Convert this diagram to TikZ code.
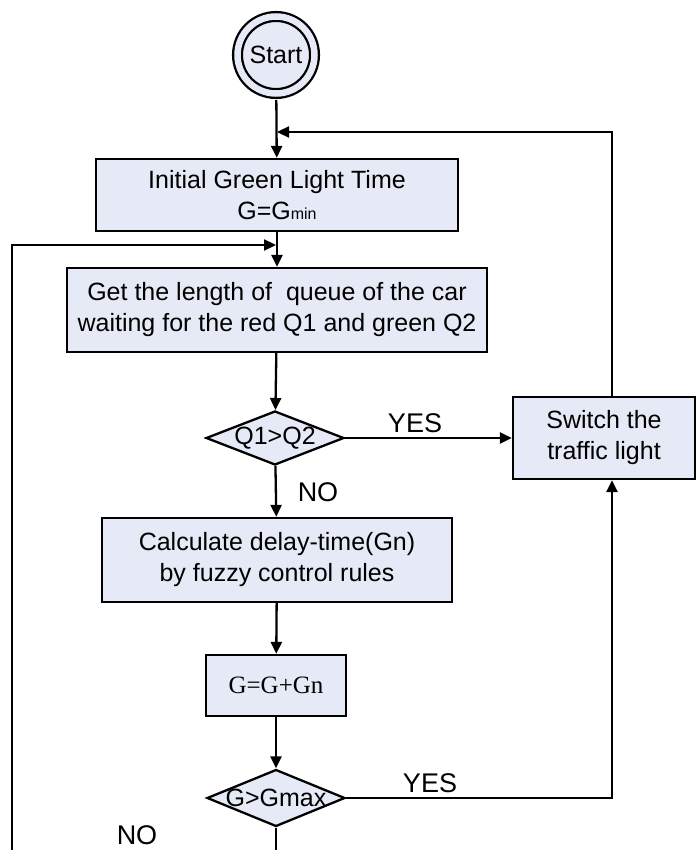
\documentclass[tikz,border=0pt]{standalone}
\usepackage{fontspec}
\setmainfont{Liberation Sans}
\newfontfamily\timesfont{Liberation Serif}
\usetikzlibrary{arrows.meta,shapes.geometric}
\definecolor{boxfill}{RGB}{230,234,246}
\begin{document}
\begin{tikzpicture}[x=1pt,y=-1pt,
  every node/.style={font=\fontsize{25}{31}\selectfont, inner sep=0pt},
  procbox/.style={draw, line width=2.3pt, fill=boxfill, rectangle, align=center},
  decision/.style={draw, line width=2.3pt, fill=boxfill, diamond},
  flow/.style={line width=2.3pt, -{Triangle[length=12pt,width=11pt]}},
  plain/.style={line width=2.3pt},
  lbl/.style={font=\fontsize{27}{27}\selectfont}]
\useasboundingbox (0,0) rectangle (697,850);

% start terminal (double ring)
\node[circle, minimum size=77pt, fill=boxfill, draw, line width=2.3pt,
      double=boxfill, double distance=6.5pt] (start) at (276,55) {Start};

% process boxes
\node[procbox, minimum width=362pt, minimum height=72pt] (b1) at (277,195)
  {Initial Green Light Time\\G=G{\fontsize{16}{16}\selectfont min}};
\node[procbox, minimum width=420pt, minimum height=84pt] (b2) at (277,310)
  {Get the length of \ queue of the car\\waiting for the red Q1 and green Q2};
\node[procbox, minimum width=350pt, minimum height=84pt] (b3) at (277,560)
  {Calculate delay-time(Gn)\\by fuzzy control rules};
\node[procbox, minimum width=140pt, minimum height=61pt] (b4) at (276,685.5)
  {\timesfont G=G+Gn};
\node[procbox, minimum width=182pt, minimum height=82pt] (sw) at (604,438)
  {Switch the\\traffic light};

% decisions (label drawn on top so it may overflow the outline)
\node[decision, minimum width=138pt, minimum height=54pt] (d1) at (275,438) {};
\node (d1t) at (d1.center) {Q1>Q2};
\node[decision, minimum width=138pt, minimum height=57pt] (d2) at (276,798) {};
\node (d2t) at (d2.center) {G>Gmax};

% routing points
\coordinate (topright) at (612,132);
\coordinate (loopcorner) at (12,245);
\coordinate (botL) at (12,850);
\coordinate (botM) at (276,850);

% main flow
\draw[flow, shorten <=5.5pt] (start) -- (b1);
\draw[flow] (b1) -- (b2);
\draw[flow] (b2) -- (d1);
\draw[flow] (d1) -- (b3);
\draw[flow] (b3) -- (b4);
\draw[flow] (b4) -- (d2);
\draw[plain] (d2.south) -- (botM);

% branches
\draw[flow] (d1.east) -- (d1.east -| sw.west);
\draw[flow] (d2.east) -- (d2.east -| topright) -- (topright |- sw.south);
\draw[flow, shorten >=1pt] (topright |- sw.north) -- (topright) -- (topright -| start);
\draw[flow, shorten >=1pt] (botL) -- (loopcorner) -- (loopcorner -| b2.north);

% branch labels
\node[lbl] (yes1) at (415,423) {YES};
\node[lbl] (no1) at (318,492) {NO};
\node[lbl] (yes2) at (430,783) {YES};
\node[lbl] (no2) at (137,835) {NO};
\end{tikzpicture}
\end{document}
